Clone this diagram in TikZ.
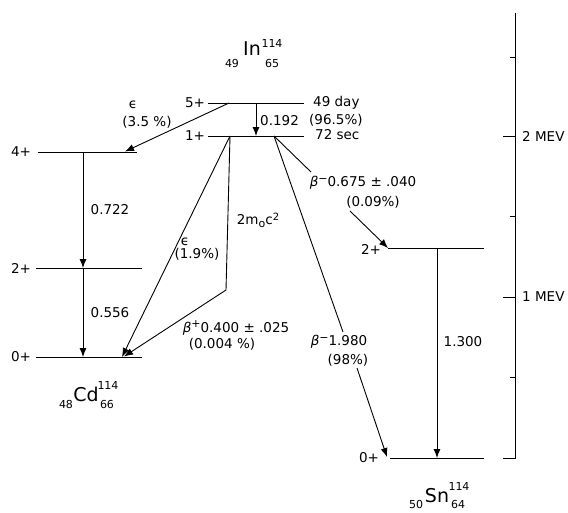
\documentclass[tikz,border=0pt]{standalone}
\usepackage{fontspec}
\setmainfont{DejaVu Sans}
\usetikzlibrary{arrows.meta}
\begin{document}
\begin{tikzpicture}[x=1pt,y=-1pt,
  lvl/.style={line width=1pt},
  ln/.style={line width=0.9pt},
  tr/.style={line width=0.9pt,-{Latex[length=9pt,width=7pt]}},
  lab/.style={inner sep=0pt,font=\fontsize{13.5}{16}\selectfont},
  big/.style={inner sep=0pt,font=\fontsize{19}{22}\selectfont},
  idx/.style={inner sep=0pt,font=\fontsize{11}{13}\selectfont}]
\useasboundingbox (0,0) rectangle (568,512);

% level end points
\coordinate (In5L) at (208,103); \coordinate (In5R) at (304,103);
\coordinate (In1L) at (208,136); \coordinate (In1R) at (304,136);
\coordinate (Cd4L) at (38,152);  \coordinate (Cd4R) at (137,152);
\coordinate (Cd2L) at (36,268);  \coordinate (Cd2R) at (142,268);
\coordinate (Cd0L) at (36,357);  \coordinate (Cd0R) at (142,357);
\coordinate (Sn2L) at (388,248); \coordinate (Sn2R) at (484,248);
\coordinate (Sn0L) at (390,458); \coordinate (Sn0R) at (484,458);

% levels
\foreach \a/\b in {In5L/In5R,In1L/In1R,Cd4L/Cd4R,Cd2L/Cd2R,Cd0L/Cd0R,Sn2L/Sn2R,Sn0L/Sn0R}
  \draw[lvl] (\a) -- (\b);

% transition points
\coordinate (t192a) at (256,103); \coordinate (t192b) at (256,136);
\coordinate (e35a) at (229,103);  \coordinate (e35b) at (125,151.5);
\coordinate (c4) at (83,152); \coordinate (c2) at (83,268); \coordinate (c0) at (83,357);
\coordinate (e19a) at (230,136); \coordinate (e19b) at (122,357);
\coordinate (bpk) at (226,290);   \coordinate (bpb) at (124,356.5);
\coordinate (bm) at (274,136);
\coordinate (b1a) at (311,172);   \coordinate (b1b) at (350,211);
\coordinate (b2a) at (343,332);   \coordinate (b2b) at (357,368); \coordinate (b2c) at (387,457);
\coordinate (s2) at (437,248);    \coordinate (s0) at (437,458);

\draw[tr] (t192a) -- (t192b);
\draw[tr] (e35a) -- (e35b);
\draw[tr] (c4) -- (c2);
\draw[tr] (c2) -- (c0);
\draw[tr] (e19a) -- (e19b);
\draw[tr] (e19a) -- (bpk) -- (bpb);
\draw[ln] (bm) -- (b1a);
\draw[tr] (b1b) -- (Sn2L);
\draw[ln] (bm) -- (b2a);
\draw[tr] (b2b) -- (b2c);
\draw[tr] (s2) -- (s0);

% energy axis
\draw[ln] (515,13) -- (515,458) -- (503,458);
\draw[ln] (510,57) -- (515,57);
\draw[ln] (503,136) -- (515,136);
\draw[ln] (510,216) -- (515,216);
\draw[ln] (503,297) -- (515,297);
\draw[ln] (510,377) -- (515,377);
\node[lab,anchor=west] (m2) at (522,136) {2 MEV};
\node[lab,anchor=west] (m1) at (522,297) {1 MEV};

% spin labels
\node[lab] (l5) at (195,103) {5+};
\node[lab] (l1) at (195,136) {1+};
\node[lab] (lc4) at (21,152) {4+};
\node[lab] (lc2) at (21,268) {2+};
\node[lab] (lc0) at (21,357) {0+};
\node[lab] (ls2) at (371,249) {2+};
\node[lab] (ls0) at (369,458) {0+};

% In labels
\node[lab,anchor=west] (d49) at (313,103) {49 day};
\node[lab,anchor=west] (p965) at (309,120) {(96.5\%)};
\node[lab,anchor=west] (e192) at (260,121) {0.192};
\node[lab,anchor=west] (s72) at (315,135) {72 sec};

% transition labels
\node[lab] (eps1) at (133,105) {ϵ};
\node[lab] (p35) at (147,122) {(3.5 \%)};
\node[lab] (e722) at (110,210) {0.722};
\node[lab] (e556) at (110,313) {0.556};
\node[lab] (eps2) at (185,242) {ϵ};
\node[lab] (p19) at (197,254) {(1.9\%)};
\node[lab] (mc2) at (258,220) {2m\raisebox{-0.35ex}{\fontsize{11}{13}\selectfont o}c\raisebox{0.6ex}{\fontsize{10}{12}\selectfont 2}};
\node[lab] (bp) at (236,328) {\textit{β}\raisebox{0.6ex}{\fontsize{11}{13}\selectfont +}0.400 ± .025};
\node[lab] (p004) at (222,344) {(0.004 \%)};
\node[lab] (bm1) at (363,183) {\textit{β}\raisebox{0.6ex}{\fontsize{11}{13}\selectfont −}0.675 ± .040};
\node[lab] (p009) at (373,202) {(0.09\%)};
\node[lab] (bm2) at (339,342) {\textit{β}\raisebox{0.6ex}{\fontsize{11}{13}\selectfont −}1.980};
\node[lab] (p98) at (348,360) {(98\%)};
\node[lab] (e1300) at (463,342) {1.300};

% nuclide titles
\node[big] (In) at (252,49) {In};
\node[idx] (InA) at (272,43) {114};
\node[idx] (InZ) at (232,63) {49};
\node[idx] (InN) at (272,63) {65};

\node[big] (Cd) at (86,394) {Cd};
\node[idx] (CdA) at (108,385) {114};
\node[idx] (CdZ) at (66,404) {48};
\node[idx] (CdN) at (107,404) {66};

\node[big] (Sn) at (437,496) {Sn};
\node[idx] (SnA) at (459,486) {114};
\node[idx] (SnZ) at (416,504) {50};
\node[idx] (SnN) at (458,504) {64};
\end{tikzpicture}
\end{document}
